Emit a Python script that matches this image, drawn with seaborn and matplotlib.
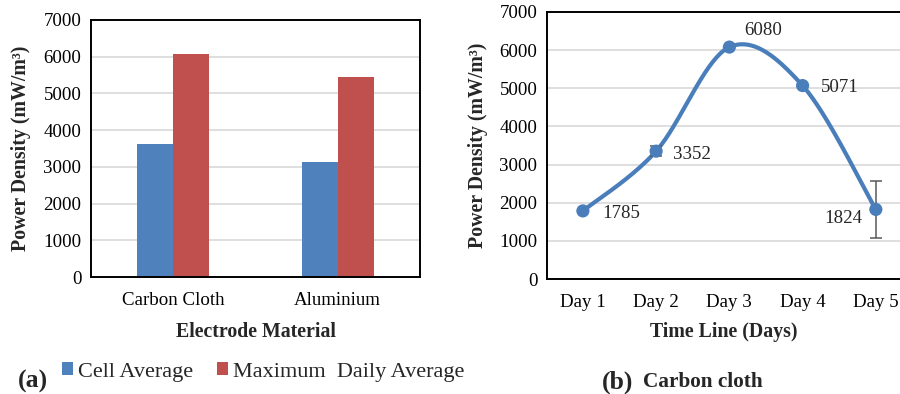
import numpy as np
import pandas as pd
import matplotlib
matplotlib.use("Agg")
import matplotlib.pyplot as plt
import seaborn as sns

# ---- data ----
materials = ["Carbon Cloth", "Aluminium"]
cell_average = [3615, 3130]
max_daily_average = [6080, 5440]
series_names = ["Cell Average", "Maximum  Daily Average"]

days = ["Day 1", "Day 2", "Day 3", "Day 4", "Day 5"]
power_density = [1785, 3352, 6080, 5071, 1824]
power_err = [0, 140, 0, 0, 755]
yticks = [0, 1000, 2000, 3000, 4000, 5000, 6000, 7000]

sns.set_theme(style="white")
plt.rcParams["font.family"] = ["Liberation Serif", "DejaVu Serif"]
plt.rcParams["axes.unicode_minus"] = False

BLUE = "#4F81BD"
RED = "#C0504D"
LINE = "#4A7EBB"
GRID = "#D9D9D9"
TICK_FS = 13.6
LABEL_FS = 14.3

fig = plt.figure(figsize=(9.0, 3.94), dpi=100)
W, H = 900.0, 394.0
ax1 = fig.add_axes([91 / W, 1 - 277 / H, 329 / W, (277 - 20) / H])
ax2 = fig.add_axes([547 / W, 1 - 279 / H, (900 - 547) / W, (279 - 12) / H])

# ---- panel (a) ----
df_bar = pd.DataFrame({
    "Material": materials * 2,
    "Series": [series_names[0]] * len(materials) + [series_names[1]] * len(materials),
    "Value": cell_average + max_daily_average,
})
sns.barplot(data=df_bar, x="Material", y="Value", hue="Series",
            palette=[BLUE, RED], width=0.44, ax=ax1, saturation=1,
            edgecolor="none", linewidth=0)
ax1.set_xlim(-0.5, 1.5)
ax1.set_ylim(0, 7000)
ax1.set_yticks(yticks)
ax1.yaxis.grid(True, color=GRID, linewidth=1.2)
ax1.set_axisbelow(True)
for s in ax1.spines.values():
    s.set_visible(True)
    s.set_color("black")
    s.set_linewidth(1.4)
ax1.tick_params(axis="both", labelsize=TICK_FS, length=0, colors="#000000")
ax1.tick_params(axis="y", pad=7)
ax1.tick_params(axis="x", pad=11)
ax1.set_xlabel("Electrode Material", fontsize=LABEL_FS, fontweight="bold", labelpad=9)
ax1.set_ylabel("Power Density (mW/m³)", fontsize=LABEL_FS, fontweight="bold", labelpad=9)

handles, labels = ax1.get_legend_handles_labels()
ax1.get_legend().remove()
fig.legend(handles, labels, loc="center left",
           bbox_to_anchor=(62 / W, 1 - 372 / H), ncol=2, frameon=False,
           fontsize=16.0, handlelength=0.5, handleheight=0.5,
           handletextpad=0.2, columnspacing=1.1, borderpad=0, borderaxespad=0)
fig.text(18 / W, 1 - 381 / H, "(a)", fontsize=18.5, fontweight="bold",
         ha="left", va="center")

# ---- panel (b) ----
x = np.arange(len(days), dtype=float)
y = np.array(power_density, dtype=float)
# Excel-like smoothed line (Catmull-Rom) computed in screen-proportional space
sy = 38.19 / 1000.0 / 73.25
pts = np.column_stack([x, y * sy])
ext = np.vstack([pts[0], pts, pts[-1]])
curve = []
for i in range(len(pts) - 1):
    p0, p1, p2, p3 = ext[i], ext[i + 1], ext[i + 2], ext[i + 3]
    c1 = p1 + (p2 - p0) / 6.0
    c2 = p2 - (p3 - p1) / 6.0
    t = np.linspace(0, 1, 40)[:, None]
    seg = ((1 - t) ** 3) * p1 + 3 * ((1 - t) ** 2) * t * c1 + 3 * (1 - t) * t ** 2 * c2 + t ** 3 * p2
    curve.append(seg if i == 0 else seg[1:])
curve = np.vstack(curve)
df_curve = pd.DataFrame({"x": curve[:, 0], "y": curve[:, 1] / sy})
sns.lineplot(data=df_curve, x="x", y="y", sort=False, color=LINE, linewidth=3.0,
             ax=ax2, estimator=None)
ax2.errorbar(x, y, yerr=power_err, fmt="none", ecolor="#595959",
             elinewidth=1.1, capsize=4, capthick=1.1, zorder=3)
df_pts = pd.DataFrame({"x": x, "y": y})
sns.scatterplot(data=df_pts, x="x", y="y", color=LINE, s=90, edgecolor="none",
                ax=ax2, zorder=4)

offsets = [(19, -3, "left"), (17, -3, "left"), (15, 17, "left"), (18, -2, "left"), (-14, -9, "right")]
for xi, yi, (dx, dy, ha) in zip(x, y, offsets):
    ax2.annotate(f"{int(yi)}", (xi, yi), xytext=(dx, dy), textcoords="offset pixels",
                 ha=ha, va="center", fontsize=TICK_FS)

ax2.set_xlim(-0.49, 4.33)
ax2.set_ylim(0, 7000)
ax2.set_yticks(yticks)
ax2.set_xticks(x)
ax2.set_xticklabels(days)
ax2.yaxis.grid(True, color=GRID, linewidth=1.2)
ax2.set_axisbelow(True)
for name, s in ax2.spines.items():
    s.set_color("black")
    s.set_linewidth(1.4)
    s.set_visible(name != "right")
ax2.tick_params(axis="both", labelsize=TICK_FS, length=0, colors="#000000")
ax2.tick_params(axis="y", pad=7)
ax2.tick_params(axis="x", pad=11)
ax2.set_xlabel("Time Line (Days)", fontsize=LABEL_FS, fontweight="bold", labelpad=8)
ax2.set_ylabel("Power Density (mW/m³)", fontsize=LABEL_FS, fontweight="bold", labelpad=8)

fig.text(602 / W, 1 - 382 / H, "(b)", fontsize=18.5, fontweight="bold", ha="left", va="center")
fig.text(643 / W, 1 - 382 / H, "Carbon cloth", fontsize=15.3, fontweight="bold", ha="left", va="center")

fig.savefig("out.png", dpi=100)
